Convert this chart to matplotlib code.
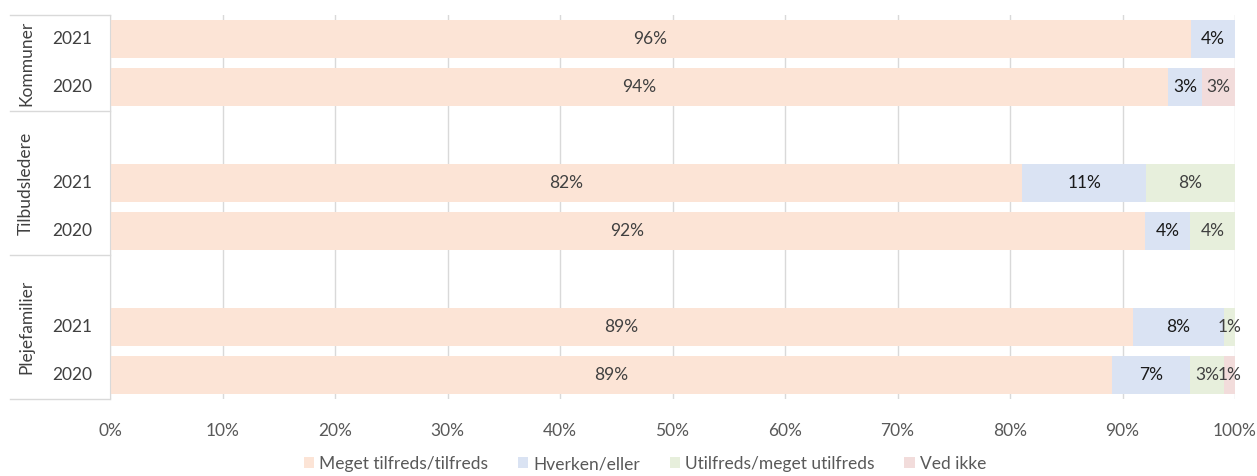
import matplotlib.pyplot as plt
from matplotlib.lines import Line2D
from matplotlib.patches import Patch
import numpy as np

plt.rcParams['font.family'] = ['Lato', 'DejaVu Sans']

# rows top to bottom (None = empty spacer slot)
groups = ["Kommuner", "Tilbudsledere", "Plejefamilier"]
years = ["2021", "2020", None, "2021", "2020", None, "2021", "2020"]

series = ["Meget tilfreds/tilfreds", "Hverken/eller", "Utilfreds/meget utilfreds", "Ved ikke"]
tilfreds = [96.1, 94.0, 0, 81.1, 92.0, 0, 90.9, 89.1]
hverken = [3.9, 3.1, 0, 11.0, 4.0, 0, 8.1, 6.9]
utilfreds = [0, 0, 0, 7.9, 4.0, 0, 1.0, 3.0]
vedikke = [0, 2.9, 0, 0, 0, 0, 0, 1.0]

lbl_tilfreds = ["96%", "94%", "", "82%", "92%", "", "89%", "89%"]
lbl_hverken = ["4%", "3%", "", "11%", "4%", "", "8%", "7%"]
lbl_utilfreds = ["", "", "", "8%", "4%", "", "1%", "3%"]
lbl_vedikke = ["", "3%", "", "", "", "", "", "1%"]

colors = ["#FCE4D6", "#DAE3F3", "#E7EFDC", "#F2DCDB"]
text_colors = ["#404040", "#1A1A1A", "#404040", "#404040"]
FS = 12.5

W, H = 1257, 476
fig = plt.figure(figsize=(W / 100, H / 100), dpi=100)
ax = fig.add_axes([110 / W, 1 - 399 / H, 1125 / W, 384 / H])

y = np.arange(len(years))
left = np.zeros(len(years))
for vals, lbls, c, tc in zip([tilfreds, hverken, utilfreds, vedikke],
                             [lbl_tilfreds, lbl_hverken, lbl_utilfreds, lbl_vedikke],
                             colors, text_colors):
    vals = np.array(vals)
    ax.barh(y, vals, left=left, height=0.79, color=c, zorder=2)
    for i, (v, l) in enumerate(zip(vals, lbls)):
        if l:
            ax.text(left[i] + v / 2, y[i], l, ha="center", va="center",
                    fontsize=FS, color=tc, zorder=3, clip_on=False)
    left = left + vals

ax.set_xlim(0, 100)
ax.set_ylim(len(years) - 0.5, -0.5)
ax.set_xticks(np.arange(0, 101, 10))
ax.set_xticklabels([f"{t}%" for t in range(0, 101, 10)], fontsize=FS, color="#595959")
ax.tick_params(axis="x", length=0, pad=17)
ax.set_yticks([])
ax.grid(axis="x", color="#D9D9D9", linewidth=1, zorder=0)
for s in ["top", "right", "bottom"]:
    ax.spines[s].set_visible(False)
ax.spines["left"].set_color("#D9D9D9")

# year labels and group labels on the left
for i, yr in enumerate(years):
    if yr:
        ax.text(-38 / 11.25, y[i], yr, ha="center", va="center", fontsize=FS,
                color="#404040", clip_on=False)

bounds = [-0.5, 1.5, 4.5, 7.5]
x0 = -100 / 11.25
for g, name in enumerate(groups):
    mid = (bounds[g] + bounds[g + 1]) / 2
    ax.text(-84 / 11.25, mid, name, rotation=90, ha="center", va="center",
            fontsize=FS, color="#404040", clip_on=False)
for b in bounds:
    ax.add_line(Line2D([x0, 0], [b, b], color="#D9D9D9", linewidth=1, clip_on=False))

handles = [Patch(facecolor=c, edgecolor="none") for c in colors]
fig.legend(handles, series, loc="center", bbox_to_anchor=(645 / W, 1 - 464 / H), ncol=4,
           frameon=False, fontsize=FS, handlelength=0.6, handleheight=0.6,
           handletextpad=0.3, columnspacing=1.7, labelcolor="#595959")

fig.savefig("out.png", dpi=100)
